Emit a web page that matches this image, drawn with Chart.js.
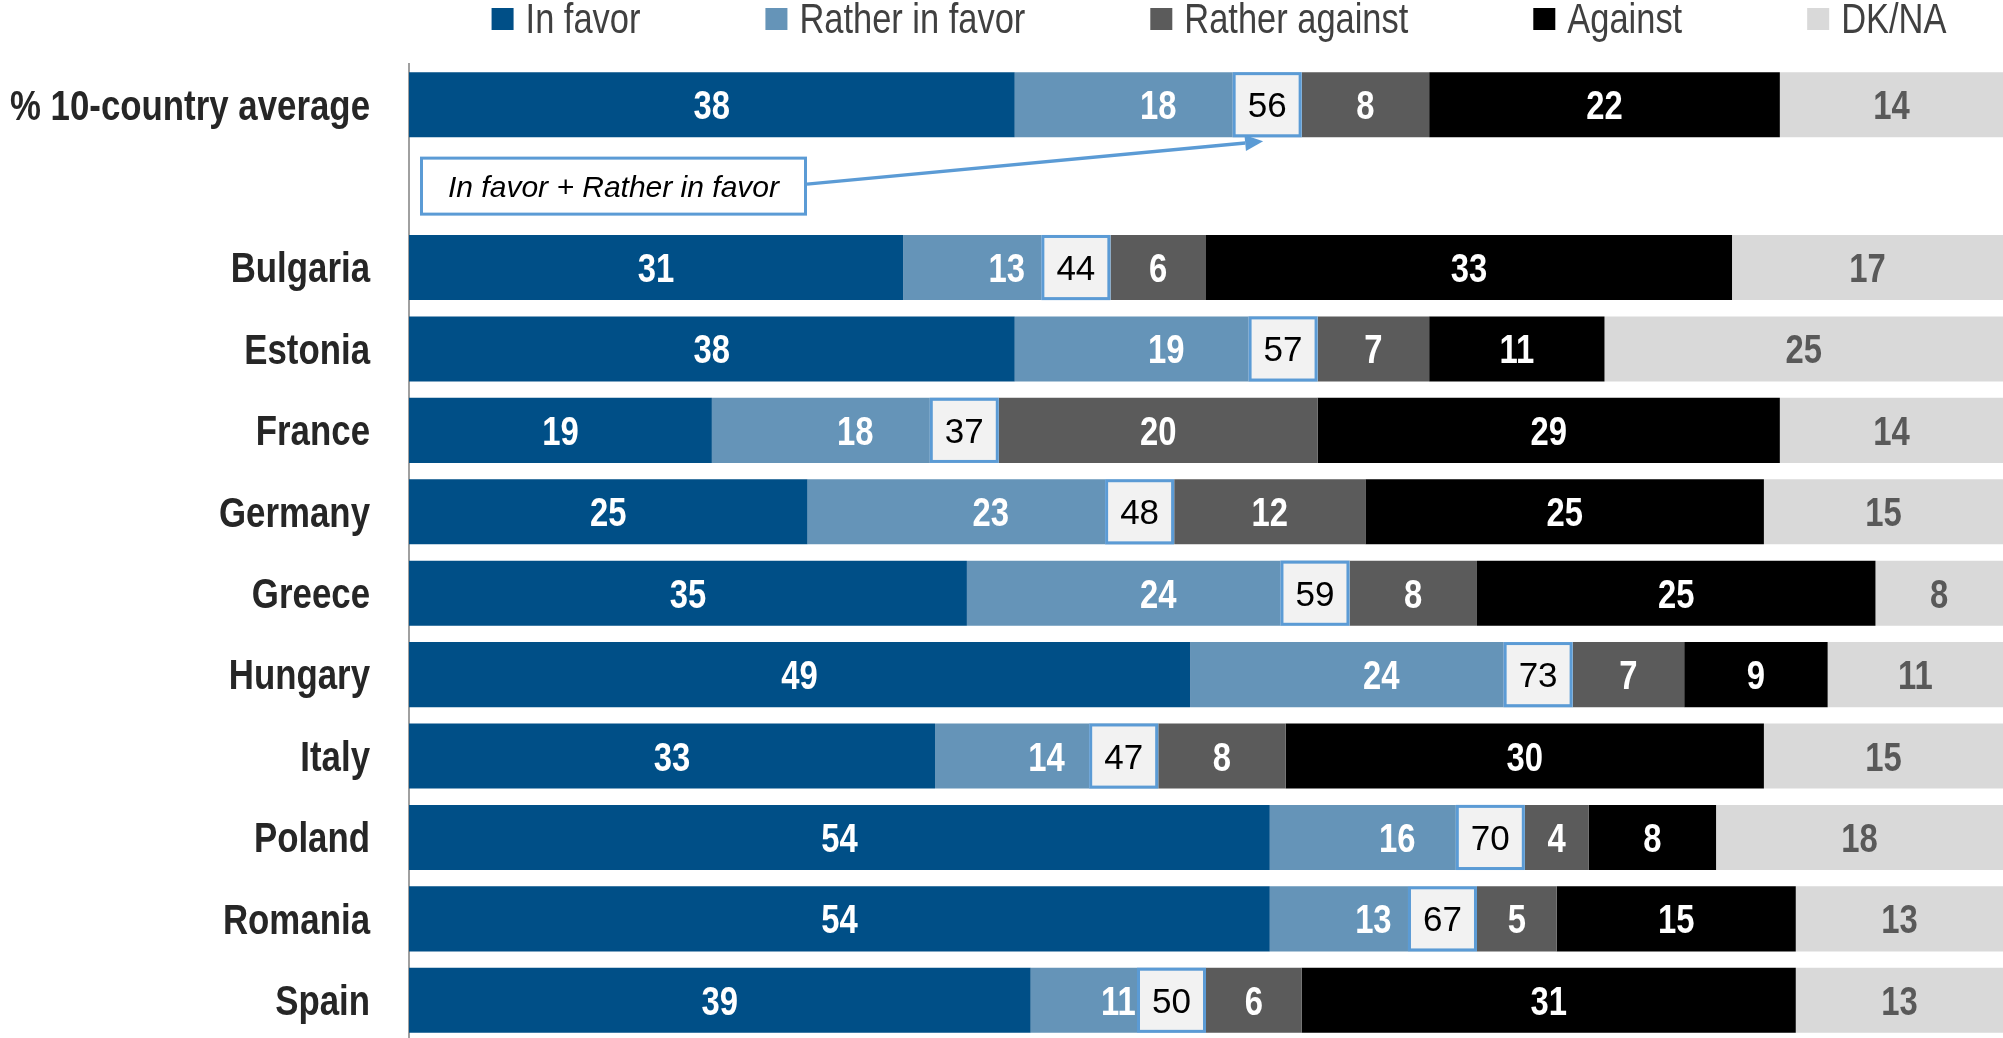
<!DOCTYPE html>
<html>
<head>
<meta charset="utf-8">
<script src="https://cdn.jsdelivr.net/npm/chart.js@4.4.1/dist/chart.umd.min.js"></script>
<style>
html,body{margin:0;padding:0;background:#ffffff;overflow:hidden;width:2003px;height:1038px}
#wrap{position:relative;width:2003px;height:1041px}
canvas{display:block}
</style>
</head>
<body>
<div id="wrap"><canvas id="c" width="2003" height="1041"></canvas></div>
<script>
// ---------- DATA ----------
const categories = ['% 10-country average', '', 'Bulgaria', 'Estonia', 'France', 'Germany', 'Greece', 'Hungary', 'Italy', 'Poland', 'Romania', 'Spain'];
const seriesNames = ['In favor', 'Rather in favor', 'Rather against', 'Against', 'DK/NA'];
const inFavor       = [38, null, 31, 38, 19, 25, 35, 49, 33, 54, 54, 39];
const ratherInFavor = [18, null, 13, 19, 18, 23, 24, 24, 14, 16, 13, 11];
const ratherAgainst = [8,  null, 6,  7,  20, 12, 8,  7,  8,  4,  5,  6];
const against       = [22, null, 33, 11, 29, 25, 25, 9,  30, 8,  15, 31];
const dkna          = [14, null, 17, 25, 14, 15, 8,  11, 15, 18, 13, 13];
const favorTotals   = [56, null, 44, 57, 37, 48, 59, 73, 47, 70, 67, 50];
const annotationText = 'In favor + Rather in favor';

// ---------- STYLE ----------
// Narrow face simulated from Liberation Sans (Arial metrics) squeezed horizontally, like Arial Narrow.
// Family marker "NarrowSimNN" => horizontal squeeze NN/100.
const narrowFamily = (pct) => 'NarrowSim' + pct + ', "Liberation Sans", Arial, sans-serif';
const NARROW = narrowFamily(82);
const NARROW_AXIS = narrowFamily(81);
const REGULAR = '"Liberation Sans", Arial, sans-serif';
(function () {
  const P = CanvasRenderingContext2D.prototype;
  const origFill = P.fillText, origMeasure = P.measureText;
  const squeezeOf = (font) => {
    const m = /NarrowSim(\d+)/.exec(String(font));
    return m ? parseInt(m[1], 10) / 100 : null;
  };
  P.fillText = function (text, x, y, maxWidth) {
    const s = squeezeOf(this.font);
    if (s) {
      this.save();
      this.translate(x, y);
      this.scale(s, 1);
      origFill.call(this, text, 0, 0);
      this.restore();
    } else if (maxWidth !== undefined) {
      origFill.call(this, text, x, y, maxWidth);
    } else {
      origFill.call(this, text, x, y);
    }
  };
  P.measureText = function (text) {
    const m = origMeasure.call(this, text);
    const s = squeezeOf(this.font);
    if (s) {
      return { width: m.width * s, actualBoundingBoxAscent: m.actualBoundingBoxAscent, actualBoundingBoxDescent: m.actualBoundingBoxDescent };
    }
    return m;
  };
})();

const fillColors = ['#004f87', '#6594b8', '#5b5b5b', '#000000', '#d9d9d9'];
const labelColors = ['#ffffff', '#ffffff', '#ffffff', '#ffffff', '#595959'];
const accent = '#5b9bd5';
const seriesData = [inFavor, ratherInFavor, ratherAgainst, against, dkna];

const overlayPlugin = {
  id: 'overlay',
  afterDatasetsDraw(chart) {
    const ctx = chart.ctx;
    const xs = chart.scales.x, ys = chart.scales.y;
    // segment labels
    chart.data.datasets.forEach((ds, di) => {
      const meta = chart.getDatasetMeta(di);
      meta.data.forEach((bar, i) => {
        const v = ds.data[i];
        if (v == null) return;
        const cx = (bar.x + bar.base) / 2;
        ctx.save();
        ctx.font = 'bold 40px ' + NARROW;
        ctx.fillStyle = labelColors[di];
        ctx.textAlign = 'center';
        ctx.textBaseline = 'alphabetic';
        ctx.fillText(String(v), cx, bar.y + 14.5);
        ctx.restore();
      });
    });
    // total boxes
    const meta1 = chart.getDatasetMeta(1);
    const boxW = 69;
    favorTotals.forEach((t, i) => {
      if (t == null) return;
      const bar = meta1.data[i];
      const h = bar.height;
      const right = xs.getPixelForValue(t);
      const left = right - boxW;
      const top = bar.y - h / 2;
      ctx.save();
      ctx.fillStyle = '#f2f2f2';
      ctx.fillRect(left, top, boxW, h);
      ctx.strokeStyle = accent;
      ctx.lineWidth = 3;
      ctx.strokeRect(left + 1.5, top + 1.5, boxW - 3, h - 3);
      ctx.font = '35px ' + REGULAR;
      ctx.fillStyle = '#000000';
      ctx.textAlign = 'center';
      ctx.textBaseline = 'alphabetic';
      ctx.fillText(String(t), left + boxW / 2, bar.y + 12.5);
      ctx.restore();
    });
    // annotation box + arrow
    const ca = chart.chartArea;
    const cy = ys.getPixelForValue(1);
    const aw = 387, ah = 59;
    const ax = ca.left + 11, ay = cy - ah / 2;
    ctx.save();
    ctx.fillStyle = '#ffffff';
    ctx.fillRect(ax, ay, aw, ah);
    ctx.strokeStyle = accent;
    ctx.lineWidth = 3;
    ctx.strokeRect(ax + 1.5, ay + 1.5, aw - 3, ah - 3);
    ctx.font = 'italic 30px ' + REGULAR;
    ctx.fillStyle = '#000000';
    ctx.textAlign = 'center';
    ctx.textBaseline = 'alphabetic';
    ctx.fillText(annotationText, ax + aw / 2, cy + 10.5);
    // arrow
    const bar0 = meta1.data[0];
    const tipX = xs.getPixelForValue(favorTotals[0]) - boxW / 2 - 4;
    const tipY = bar0.y + bar0.height / 2 + 4;
    const sx = ax + aw, sy = cy - 2;
    const ang = Math.atan2(tipY - sy, tipX - sx);
    const hl = 18, hw = 8;
    const bx = tipX - hl * Math.cos(ang), by = tipY - hl * Math.sin(ang);
    ctx.strokeStyle = accent;
    ctx.lineWidth = 3.5;
    ctx.beginPath();
    ctx.moveTo(sx, sy);
    ctx.lineTo(bx, by);
    ctx.stroke();
    ctx.fillStyle = accent;
    ctx.beginPath();
    ctx.moveTo(tipX, tipY);
    ctx.lineTo(bx + hw * Math.sin(ang), by - hw * Math.cos(ang));
    ctx.lineTo(bx - hw * Math.sin(ang), by + hw * Math.cos(ang));
    ctx.closePath();
    ctx.fill();
    ctx.restore();
  },
  afterDraw(chart) {
    // legend
    const ctx = chart.ctx;
    const ca = chart.chartArea;
    ctx.save();
    ctx.font = '42px ' + NARROW;
    const sq = 22, sqGap = 12, itemGap = 125;
    const widths = seriesNames.map(n => ctx.measureText(n).width);
    const total = widths.reduce((a, w) => a + sq + sqGap + w, 0) + itemGap * (seriesNames.length - 1);
    let x = (ca.left + ca.right) / 2 + 13 - total / 2;
    seriesNames.forEach((n, i) => {
      ctx.fillStyle = fillColors[i];
      ctx.fillRect(x, 8, sq, sq);
      ctx.fillStyle = '#404040';
      ctx.textAlign = 'left';
      ctx.textBaseline = 'alphabetic';
      ctx.fillText(n, x + sq + sqGap, 33);
      x += sq + sqGap + widths[i] + itemGap;
    });
    ctx.restore();
  }
};

new Chart(document.getElementById('c'), {
  type: 'bar',
  data: {
    labels: categories,
    datasets: seriesNames.map((n, i) => ({
      label: n,
      data: seriesData[i],
      backgroundColor: fillColors[i],
      borderWidth: 0,
      barPercentage: 0.8,
      categoryPercentage: 1.0
    }))
  },
  options: {
    indexAxis: 'y',
    responsive: false,
    maintainAspectRatio: false,
    animation: false,
    layout: { padding: { top: 64, left: 0, right: 0, bottom: 0 } },
    plugins: { legend: { display: false }, tooltip: { enabled: false } },
    scales: {
      x: { stacked: true, min: 0, max: 100, display: false },
      y: {
        stacked: true,
        grid: { display: false, drawTicks: false },
        border: { display: true, color: '#a0a0a0', width: 2 },
        ticks: {
          padding: 39,
          labelOffset: 3,
          color: '#262626',
          font: { family: NARROW_AXIS, size: 43, weight: 'bold' }
        },
        afterFit(scale) {
          scale.width = 409;
          scale.paddingTop = 0;
          scale.paddingBottom = 0;
        }
      }
    }
  },
  plugins: [overlayPlugin]
});
</script>
</body>
</html>
